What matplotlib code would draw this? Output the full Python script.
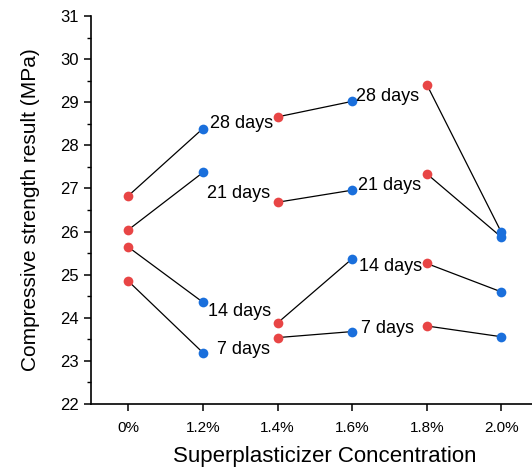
import matplotlib
matplotlib.use("Agg")
import matplotlib.pyplot as plt
from matplotlib.ticker import MultipleLocator

plt.rcParams['font.family'] = ['Liberation Sans', 'DejaVu Sans']

# Data
concentrations = ["0%", "1.2%", "1.4%", "1.6%", "1.8%", "2.0%"]
days_28 = [26.83, 28.39, 28.66, 29.02, 29.41, 25.98]
days_21 = [26.04, 27.37, 26.68, 26.96, 27.34, 25.87]
days_14 = [25.64, 24.36, 23.88, 25.37, 25.26, 24.60]
days_7 = [24.85, 23.19, 23.54, 23.68, 23.81, 23.56]
series_names = ["28 days", "21 days", "14 days", "7 days"]

red = "#e84545"
blue = "#1a6fdc"

fig = plt.figure(figsize=(5.32, 4.71), dpi=100)
ax = fig.add_axes([91 / 532, 67 / 471, 441 / 532, 388 / 471])

x = list(range(len(concentrations)))
all_series = [days_28, days_21, days_14, days_7]

# line segments join each pair of concentrations: (0,1), (2,3), (4,5)
for vals in all_series:
    for i in range(0, len(vals), 2):
        ax.plot(x[i:i + 2], vals[i:i + 2], color="black", lw=0.9, zorder=2)
    ax.plot(x[0::2], vals[0::2], "o", color=red, ms=7, mec="none", zorder=3)
    ax.plot(x[1::2], vals[1::2], "o", color=blue, ms=7, mec="none", zorder=3)

# series labels next to the 1.2% and 1.6% points (offsets in pixels)
offsets_a = [(7, 5), (4, -21), (5, -9), (14, 3)]
offsets_b = [(4, 5), (6, 5), (7, -8), (9, 3)]
for name, vals, oa, ob in zip(series_names, all_series, offsets_a, offsets_b):
    ax.annotate(name, (x[1], vals[1]), xytext=oa, textcoords="offset pixels",
                ha="left", va="center", fontsize=13)
    ax.annotate(name, (x[3], vals[3]), xytext=ob, textcoords="offset pixels",
                ha="left", va="center", fontsize=13)

ax.set_xlim(-0.5, 5.41)
ax.set_ylim(22, 31)
ax.set_xticks(x)
ax.set_xticklabels(concentrations)
ax.yaxis.set_major_locator(MultipleLocator(1))
ax.yaxis.set_minor_locator(MultipleLocator(0.5))

ax.spines["top"].set_visible(False)
ax.spines["right"].set_visible(False)
ax.spines["left"].set_linewidth(1.2)
ax.spines["bottom"].set_linewidth(1.2)
ax.tick_params(axis="both", which="major", direction="out", length=5, width=1.1,
               colors="black")
ax.tick_params(axis="y", which="minor", direction="out", length=3, width=1.0)
ax.tick_params(axis="x", labelsize=11, pad=7)
ax.tick_params(axis="y", labelsize=12, pad=4)

ax.set_xlabel("Superplasticizer Concentration", fontsize=16)
ax.xaxis.set_label_coords(0.53, -0.108)
ax.set_ylabel("Compressive strength result (MPa)", fontsize=15, labelpad=14)

fig.savefig("out.png", dpi=100)
